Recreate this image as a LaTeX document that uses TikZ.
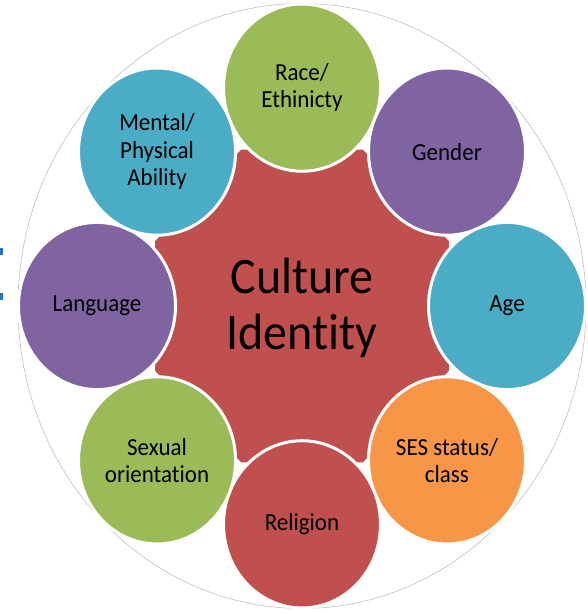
\documentclass[tikz,border=0pt]{standalone}
\usepackage{fontspec}
\setmainfont{Carlito}[Ligatures = NoCommon]
\usepackage{tikz}
\usetikzlibrary{shapes}
\definecolor{cred}{HTML}{C0504D}
\definecolor{cgreen}{HTML}{9BBB59}
\definecolor{cpurple}{HTML}{8064A2}
\definecolor{cblue}{HTML}{4BACC6}
\definecolor{corange}{HTML}{F79646}
\definecolor{cmark}{HTML}{2372C6}

\begin{document}
\begin{tikzpicture}[x = 1pt, y = 1pt, yscale = 1.065, every node/.style = {transform shape},
  bubble/.style = {circle, draw = white, line width = 3pt, minimum size = 157pt, inner sep = 0pt,
    align = center, text = black, font = \fontsize{23}{25.5}\selectfont}]
  \useasboundingbox (-302, -289.2) rectangle (285, 287.3);
  \draw[black!25, line width = .6pt] (0, 0) circle (284);
  \fill[cmark] (-302, 47.9) rectangle (-299, 54.5);
  \fill[cmark] (-302, 5.6) rectangle (-299, 12.2);
  % red star behind the bubbles
  \fill[cred] (22.5:159) \foreach \a in {67.5, 112.5, ..., 337.5} { -- (\a:159) } -- cycle;
  \node[align = center, font = \fontsize{48}{53}\selectfont] at (0, -2) (core) {Culture\\Identity};
  \node[bubble, fill = cgreen] at (90:205) (race) {Race/\\Ethinicty};
  \node[bubble, fill = cpurple] at (45:205) (gender) {Gender};
  \node[bubble, fill = cblue] at (0:205) (age) {Age};
  \node[bubble, fill = corange] at (-45:205) (ses) {SES status/\\class};
  \node[bubble, fill = cred] at (-90:205) (religion) {Religion};
  \node[bubble, fill = cgreen] at (-135:205) (sexual) {Sexual\\orientation};
  \node[bubble, fill = cpurple] at (180:205) (language) {Language};
  \node[bubble, fill = cblue] at (135:205) (ability) {Mental/\\Physical\\Ability};
\end{tikzpicture}
\end{document}
